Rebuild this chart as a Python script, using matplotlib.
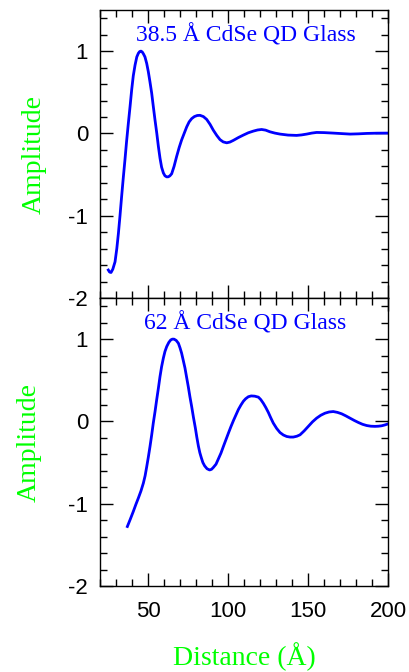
import matplotlib
matplotlib.use("Agg")
import matplotlib.pyplot as plt
from matplotlib.ticker import MultipleLocator

# autocorrelation amplitude vs. distance for two CdSe quantum-dot glasses
dist_small = [25.2, 26.0, 26.9, 28.0, 29.4, 30.5, 31.5, 32.5, 33.5, 34.5,
              35.6, 36.6, 37.7, 38.8, 39.8, 40.8, 41.9, 43.0, 44.0, 44.8,
              45.6, 46.4, 47.2, 48.1, 49.2, 50.2, 51.2, 52.3, 53.3, 54.4,
              55.5, 56.5, 57.5, 58.5, 59.6, 60.6, 61.7, 62.7, 63.7, 64.8,
              66.3, 67.9, 69.5, 71.0, 72.6, 74.2, 75.7, 77.3, 79.0, 80.8,
              82.5, 84.6, 86.7, 88.8, 90.8, 93.0, 95.0, 97.0, 99.2, 101.2,
              103.3, 106.5, 109.6, 112.7, 115.8, 118.5, 121.0, 123.5, 126.2,
              129.3, 132.5, 137.5, 142.9, 146.0, 149.2, 152.3, 155.4, 160.0,
              165.8, 171.0, 176.3, 181.5, 186.7, 193.0, 200.0]
amp_small = [-1.66, -1.685, -1.69, -1.65, -1.56, -1.40, -1.215, -1.0, -0.77, -0.55,
             -0.32, -0.10, 0.12, 0.33, 0.53, 0.70, 0.83, 0.93, 0.975, 0.995,
             1.0, 0.99, 0.965, 0.93, 0.85, 0.75, 0.63, 0.49, 0.33, 0.16,
             0.0, -0.16, -0.30, -0.41, -0.48, -0.515, -0.528, -0.527, -0.515, -0.49,
             -0.40, -0.28, -0.17, -0.08, 0.0, 0.08, 0.14, 0.18, 0.205, 0.218,
             0.22, 0.205, 0.17, 0.11, 0.04, -0.025, -0.075, -0.103, -0.114, -0.105,
             -0.085, -0.05, -0.02, 0.008, 0.028, 0.042, 0.048, 0.04, 0.02,
             0.004, -0.008, -0.02, -0.024, -0.018, -0.008, 0.004, 0.012, 0.01,
             0.004, -0.002, -0.008, -0.005, 0.0, 0.003, 0.004]

dist_large = [37.1, 39.0, 40.8, 42.4, 44.0, 45.6, 47.1, 48.2, 49.2, 50.2,
              51.25, 52.3, 53.3, 54.4, 55.4, 56.5, 57.5, 58.5, 59.6, 60.6,
              61.7, 63.0, 64.2, 65.2, 66.25, 67.6, 69.0, 70.0, 71.0, 72.0,
              73.1, 74.1, 75.2, 76.2, 77.3, 78.4, 79.6, 80.5, 81.5, 82.4,
              83.3, 84.3, 85.4, 86.9, 88.5, 89.7, 90.8, 92.5, 94.0, 95.6,
              97.2, 98.75, 100.3, 101.9, 103.5, 105.0, 106.5, 108.1, 109.6, 111.0,
              112.7, 114.5, 116.7, 119.0, 120.5, 122.1, 123.6, 125.2, 126.7, 128.3,
              130.4, 132.5, 134.6, 136.7, 138.8, 140.8, 143.0, 145.0, 147.6, 150.2,
              152.8, 155.4, 158.0, 160.6, 163.2, 165.8, 168.4, 171.0, 173.6, 176.25,
              178.9, 181.5, 184.1, 186.7, 189.3, 191.9, 194.0, 196.0, 198.0, 200.0]
amp_large = [-1.277, -1.185, -1.095, -1.01, -0.93, -0.845, -0.75, -0.66, -0.55, -0.435,
             -0.305, -0.165, -0.02, 0.12, 0.26, 0.405, 0.545, 0.665, 0.77, 0.85,
             0.91, 0.96, 0.99, 1.0, 1.0, 0.985, 0.95, 0.895, 0.83, 0.745,
             0.65, 0.54, 0.42, 0.30, 0.18, 0.05, -0.08, -0.19, -0.30, -0.38,
             -0.44, -0.50, -0.54, -0.575, -0.59, -0.582, -0.56, -0.52, -0.455, -0.385,
             -0.30, -0.22, -0.14, -0.06, 0.015, 0.08, 0.145, 0.20, 0.245, 0.275,
             0.30, 0.31, 0.307, 0.295, 0.265, 0.22, 0.17, 0.11, 0.045, -0.02,
             -0.085, -0.135, -0.165, -0.183, -0.19, -0.19, -0.18, -0.163, -0.115, -0.06,
             -0.005, 0.04, 0.075, 0.10, 0.115, 0.12, 0.11, 0.093, 0.068, 0.04,
             0.012, -0.013, -0.035, -0.05, -0.058, -0.06, -0.058, -0.053, -0.043, -0.03]

titles = ["38.5 \u00c5 CdSe QD Glass", "62 \u00c5 CdSe QD Glass"]

plt.rcParams["axes.unicode_minus"] = False
plt.rcParams["font.family"] = ["Liberation Sans", "DejaVu Sans"]

fig = plt.figure(figsize=(4.10, 6.72), dpi=100)
W, H = 410.0, 672.0
ax1 = fig.add_axes([100 / W, 1 - 298 / H, 288 / W, 288 / H])
ax2 = fig.add_axes([100 / W, 1 - 586 / H, 288 / W, 288 / H])

serif = ["Liberation Serif", "DejaVu Serif"]
label_x = [-0.229, -0.247]

for ax, xs, ys, title, lx in zip([ax1, ax2], [dist_small, dist_large],
                                 [amp_small, amp_large], titles, label_x):
    ax.plot(xs, ys, color="#0000ff", lw=2.0, solid_joinstyle="round")
    ax.set_xlim(20, 200)
    ax.set_ylim(-2, 1.5)
    ax.xaxis.set_major_locator(MultipleLocator(50))
    ax.xaxis.set_minor_locator(MultipleLocator(10))
    ax.yaxis.set_major_locator(MultipleLocator(1))
    ax.yaxis.set_minor_locator(MultipleLocator(0.2))
    ax.tick_params(which="both", direction="in", top=True, right=True,
                   width=1.0, labelsize=16)
    ax.tick_params(which="major", length=9.4)
    ax.tick_params(which="minor", length=4.7)
    ax.tick_params(axis="y", pad=8.5)
    ax.tick_params(axis="x", pad=11)
    for s in ax.spines.values():
        s.set_linewidth(1.0)
    ax.text(0.505, 0.913, title, transform=ax.transAxes, ha="center",
            va="center", color="#0000ff", fontsize=17, family=serif)
    ax.text(lx, 0.5, "Amplitude", transform=ax.transAxes, rotation=90,
            ha="center", va="center", color="#00ff00", fontsize=20,
            family=serif)

ax1.tick_params(axis="x", labelbottom=False)

fig.text(244 / W, 1 - 657 / H, "Distance (\u00c5)", ha="center", va="center",
         color="#00ff00", fontsize=20, family=serif)

fig.savefig("out.png", dpi=100)
